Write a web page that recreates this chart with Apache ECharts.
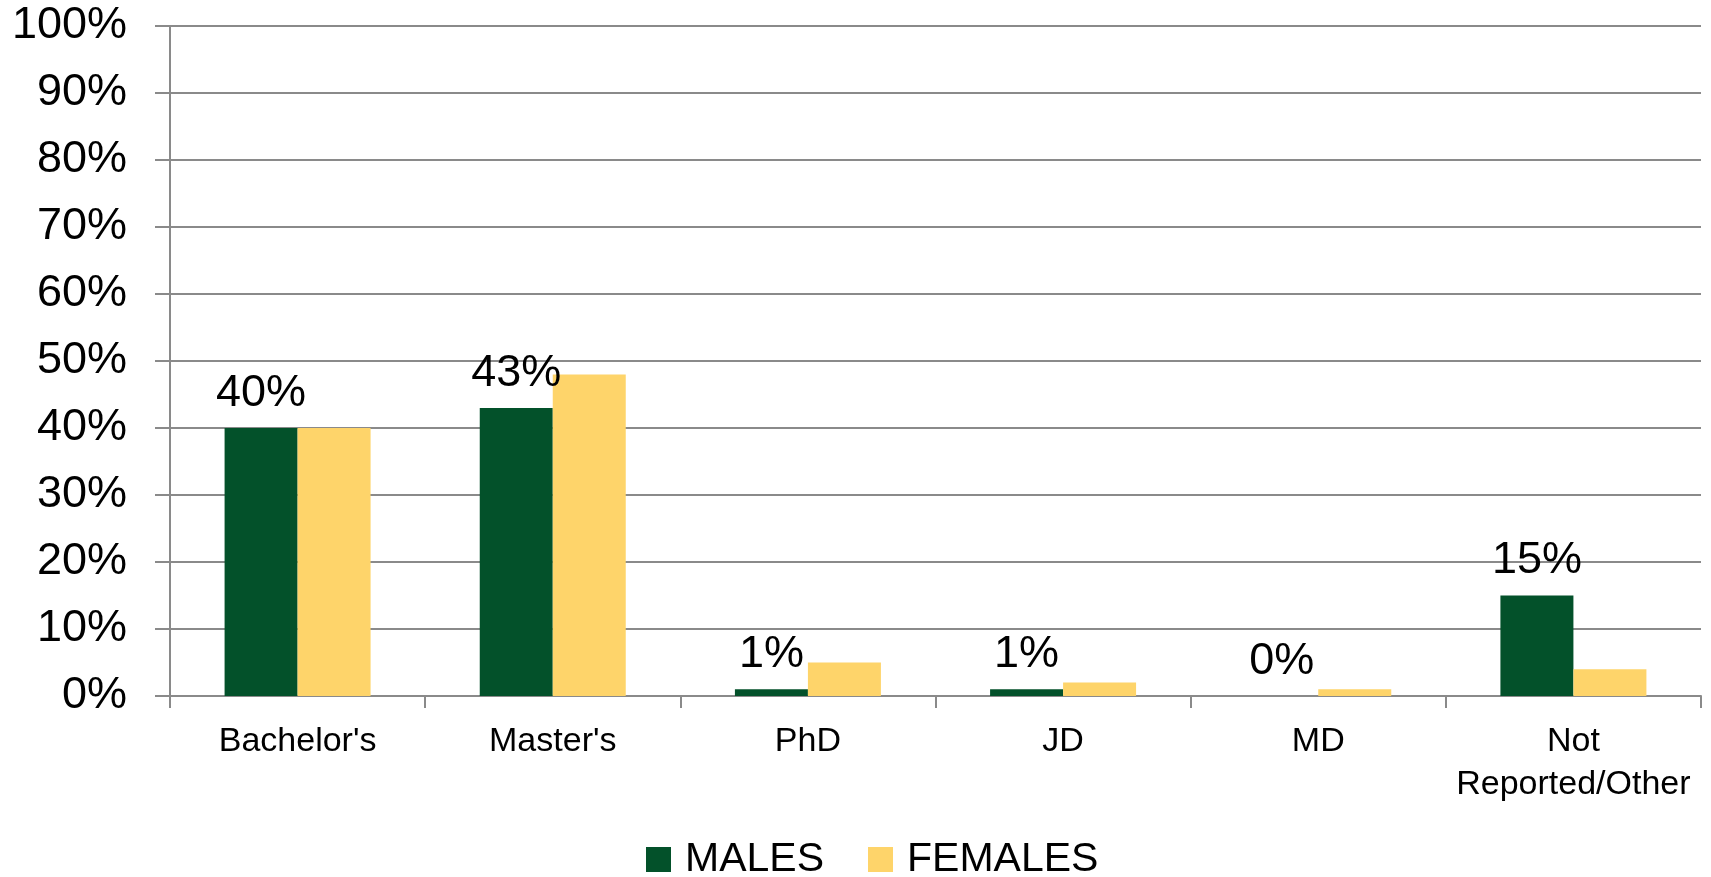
<!DOCTYPE html>
<html>
<head>
<meta charset="utf-8">
<script src="https://cdn.jsdelivr.net/npm/echarts@6/dist/echarts.min.js"></script>
<style>
  html, body { margin: 0; padding: 0; background: #fff; }
  #main { width: 1711px; height: 877px; }
</style>
</head>
<body>
<div id="main"></div>
<script>
var degrees = ["Bachelor's", "Master's", 'PhD', 'JD', 'MD', 'Not\nReported/Other'];
var males = [40, 43, 1, 1, 0, 15];
var females = [40, 48, 5, 2, 1, 4];
var yTicks = { min: 0, max: 100, interval: 10 };

var dom = document.getElementById('main');
var myChart = echarts.init(dom, null, { renderer: 'canvas' });
var font = 'Liberation Sans';
var lineColor = '#8a8a8a';

var option = {
  animation: false,
  textStyle: { fontFamily: font },
  color: ['#03512a', '#fed46a'],
  grid: { left: 170, right: 10, top: 26, bottom: 181 },
  legend: {
    top: 834,
    left: 641,
    itemWidth: 25,
    itemHeight: 25,
    itemGap: 44,
    icon: 'rect',
    textStyle: { fontSize: 41, color: '#000', fontFamily: font, padding: [0, 0, 0, 9] },
    data: ['MALES', 'FEMALES']
  },
  xAxis: {
    type: 'category',
    data: degrees,
    axisLine: { lineStyle: { color: lineColor, width: 2 } },
    axisTick: { show: true, length: 12, lineStyle: { color: lineColor, width: 2 } },
    axisLabel: { fontSize: 34, color: '#000', margin: 24, lineHeight: 43, interval: 0 }
  },
  yAxis: {
    type: 'value',
    min: yTicks.min,
    max: yTicks.max,
    interval: yTicks.interval,
    axisLine: { show: true, lineStyle: { color: lineColor, width: 2 } },
    axisTick: { show: true, length: 15, lineStyle: { color: lineColor, width: 2 } },
    splitLine: { lineStyle: { color: lineColor, width: 2 } },
    axisLabel: { fontSize: 45, color: '#000', margin: 43, formatter: '{value}%' }
  },
  series: [
    {
      name: 'MALES',
      type: 'bar',
      data: males,
      barWidth: 73,
      barGap: '0%',
      label: {
        show: true,
        position: 'top',
        distance: 12,
        fontSize: 45,
        color: '#000',
        formatter: '{c}%'
      }
    },
    {
      name: 'FEMALES',
      type: 'bar',
      data: females,
      barWidth: 73,
      barGap: '0%'
    }
  ]
};

myChart.setOption(option);
window.onresize = myChart.resize;
</script>
</body>
</html>
